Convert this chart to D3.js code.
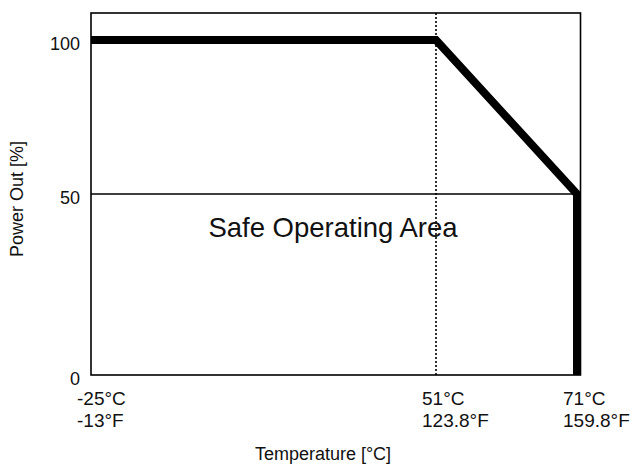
<!DOCTYPE html>
<html>
<head>
<meta charset="utf-8">
<script src="https://cdn.jsdelivr.net/npm/d3@7"></script>
<style>
  body { margin: 0; background: #fff; }
  text { font-family: "Liberation Sans", Arial, Helvetica, sans-serif; fill: #111; }
</style>
</head>
<body>
<script>
// derating curve data
const tempC = [-25, 51, 71];
const tempLabelsC = ["-25°C", "51°C", "71°C"];
const tempLabelsF = ["-13°F", "123.8°F", "159.8°F"];
const powerTicks = [0, 50, 100];
const curveTemp = [-25, 51, 71, 71];
const curvePower = [100, 100, 50, 0];

const W = 635, H = 466;
const plotLeft = 91, plotRight = 580.5, plotTop = 13, plotBottom = 375;

const svg = d3.select("body").append("svg")
  .attr("width", W)
  .attr("height", H);

// the axes in the datasheet are not to scale, so piecewise scales
const x = d3.scaleLinear().domain(tempC).range([plotLeft, 436, 577]);
const y = d3.scaleLinear().domain(powerTicks).range([plotBottom, 194, 40]);

// 50% guide line
svg.append("line")
  .attr("x1", plotLeft).attr("x2", x(71))
  .attr("y1", y(50)).attr("y2", y(50))
  .attr("stroke", "#000").attr("stroke-width", 1.3);

// dotted line at 51°C
svg.append("line")
  .attr("x1", x(51)).attr("x2", x(51))
  .attr("y1", plotTop).attr("y2", plotBottom)
  .attr("stroke", "#000").attr("stroke-width", 1.6)
  .attr("stroke-dasharray", "2,2");

// frame
svg.append("rect")
  .attr("x", plotLeft).attr("y", plotTop)
  .attr("width", plotRight - plotLeft).attr("height", plotBottom - plotTop)
  .attr("fill", "none").attr("stroke", "#000").attr("stroke-width", 1.6);

// power curve
const pts = curveTemp.map((t, i) => [x(t), y(curvePower[i])]);
svg.append("path")
  .attr("d", d3.line()(pts))
  .attr("fill", "none")
  .attr("stroke", "#000")
  .attr("stroke-width", 8)
  .attr("stroke-linejoin", "miter")
  .attr("stroke-linecap", "butt");

// y axis labels
const yAxis = svg.append("g")
  .attr("transform", `translate(${plotLeft},0)`)
  .call(d3.axisLeft(y).tickValues(powerTicks).tickSize(0).tickPadding(11).tickFormat(d3.format("d")));
yAxis.select(".domain").remove();
yAxis.selectAll("text")
  .attr("font-size", 18)
  .attr("font-family", "Liberation Sans, Arial, sans-serif")
  .attr("fill", "#111")
  .attr("dy", "0.55em");

// x tick labels, two lines each
const xt = svg.append("g").selectAll("text")
  .data(tempC)
  .join("text")
  .attr("x", d => x(d) - 14)
  .attr("y", 405)
  .attr("font-size", 19);
xt.append("tspan").text((d, i) => tempLabelsC[i]);
xt.append("tspan")
  .attr("x", d => x(d) - 14)
  .attr("dy", 22)
  .text((d, i) => tempLabelsF[i]);

// titles
svg.append("text")
  .attr("x", 323).attr("y", 460)
  .attr("text-anchor", "middle")
  .attr("font-size", 18)
  .text("Temperature [°C]");

svg.append("text")
  .attr("transform", "translate(23,199) rotate(-90)")
  .attr("text-anchor", "middle")
  .attr("font-size", 18)
  .text("Power Out [%]");

svg.append("text")
  .attr("x", 333).attr("y", 237)
  .attr("text-anchor", "middle")
  .attr("font-size", 27.5)
  .text("Safe Operating Area");
</script>
</body>
</html>
